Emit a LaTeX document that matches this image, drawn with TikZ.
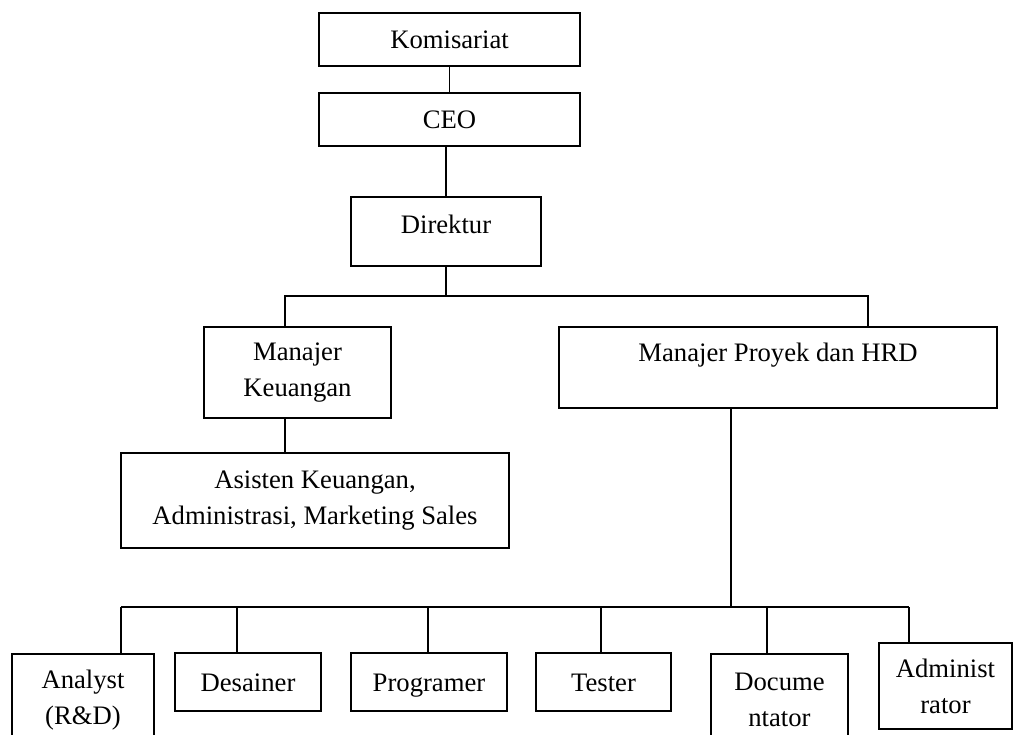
\documentclass[tikz,border=0pt]{standalone}
\usepackage{fontspec}
\setmainfont{Liberation Serif}
\usepackage{tikz}

\begin{document}
\begin{tikzpicture}[x=0.75pt, y=-0.75pt, font=\fontsize{20}{27}\selectfont, every node/.style={inner sep=0pt}]
        \tikzset{
            box/.style={draw, line width=1.1pt, align=center},
            oneline/.style={text height=13.5pt, text depth=0pt},
            conn/.style={line width=1.1pt}
        }
        \clip (0,0) rectangle (1014,735);

        \node[box, oneline, minimum width=195.75pt, minimum height=39.75pt] (kom) at (449.5,39.5) {Komisariat};
        \node[box, oneline, minimum width=195.75pt, minimum height=39.75pt] (ceo) at (449.5,119.5) {CEO};
        \node[box, minimum width=142.5pt, minimum height=51.75pt, text height=13.5pt, text depth=10pt] (dir) at (446,231.5) {Direktur};
        \node[box, minimum width=140.25pt, minimum height=68.25pt] (mk) at (297.5,372.5) {Manajer\\Keuangan};
        \node[box, minimum width=328.5pt, minimum height=60.75pt, text height=13.5pt, text depth=22pt] (mp) at (778,367.5) {Manajer Proyek dan HRD};
        \node[box, minimum width=291pt, minimum height=71.25pt] (ask) at (315,500.5) {Asisten Keuangan,\\Administrasi, Marketing Sales};

        \node[box, minimum width=106.5pt, minimum height=69pt] (ana) at (83,700) {Analyst\\(R\&D)};
        \node[box, oneline, minimum width=109.5pt, minimum height=43.5pt] (des) at (248,682) {Desainer};
        \node[box, oneline, minimum width=117pt, minimum height=43.5pt] (pro) at (429,682) {Programer};
        \node[box, oneline, minimum width=101.25pt, minimum height=43.5pt] (tes) at (603.5,682) {Tester};
        \node[box, minimum width=102.75pt, minimum height=69pt] (doc) at (779.5,700) {Docume\\ntator};
        \node[box, minimum width=99.75pt, minimum height=64.5pt] (adm) at (945.5,686) {Administ\\rator};

        % upper part
        \draw[conn] (kom) -- (ceo);
        \draw[conn] (dir.north) -- (dir.north |- ceo.south);
        \coordinate (jmk) at (285,296);
        \coordinate (jmp) at (868,296);
        \draw[conn] (dir) -- (dir |- jmk);
        \draw[conn] (jmk |- mk.north) -- (jmk) -- (jmp) -- (jmp |- mp.north);
        \draw[conn] (jmk |- mk.south) -- (jmk |- ask.north);

        % staff row
        \coordinate (jmid) at (731,607);
        \draw[conn] (jmid |- mp.south) -- (jmid);
        \foreach \n/\x in {ana/121, des/237, pro/428, tes/601, doc/767, adm/909} {
            \coordinate (j\n) at (\x,607);
            \draw[conn] (j\n) -- (j\n |- \n.north);
        }
        \draw[conn] (jana) -- (jadm);
    \end{tikzpicture}
\end{document}
